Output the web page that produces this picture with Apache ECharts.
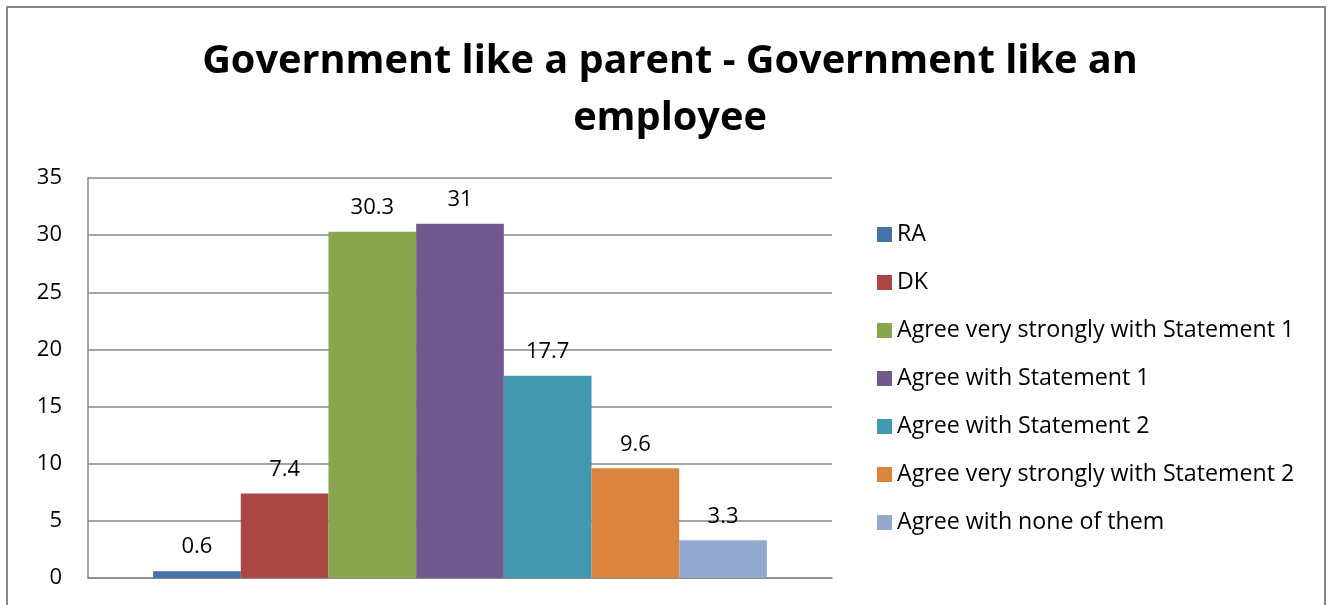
<!DOCTYPE html>
<html><head><meta charset="utf-8">
<script src="https://cdn.jsdelivr.net/npm/echarts@6/dist/echarts.min.js"></script>
<style>html,body{margin:0;padding:0;background:#fff}#c{width:1332px;height:605px}</style>
</head><body><div id="c"></div>
<script>
const titleText = 'Government like a parent - Government like an\nemployee';
const categories = [''];
const seriesNames = ['RA','DK','Agree very strongly with Statement 1','Agree with Statement 1','Agree with Statement 2','Agree very strongly with Statement 2','Agree with none of them'];
const seriesValues = [0.6, 7.4, 30.3, 31, 17.7, 9.6, 3.3];
const colors = ['#4572A7','#AA4643','#89A54E','#71588F','#4198AF','#DB843D','#93A9CF'];
const yTicks = {min:0, max:35, interval:5};

const FONT = 'Open Sans';
const chart = echarts.init(document.getElementById('c'));
chart.setOption({
  animation:false,
  color: colors,
  title:{text:titleText,left:665,textAlign:'center',top:28,
    textStyle:{fontFamily:FONT,fontWeight:'bold',fontSize:39.7,lineHeight:57,color:'#000'}},
  graphic:[{type:'rect',shape:{x:7,y:7,width:1318,height:640},style:{fill:'none',stroke:'#868686',lineWidth:2},z:-1}],
  grid:{left:88,top:178,width:744,height:400,containLabel:false},
  legend:{orient:'vertical',left:872,top:218,itemWidth:15,itemHeight:15,itemGap:25,
    icon:'rect',textStyle:{fontFamily:FONT,fontSize:23.2,color:'#000'},data:seriesNames},
  xAxis:{type:'category',data:categories,axisLine:{lineStyle:{color:'#868686',width:1.5}},axisTick:{show:false},axisLabel:{show:false}},
  yAxis:{type:'value',min:yTicks.min,max:yTicks.max,interval:yTicks.interval,
    axisLine:{show:true,lineStyle:{color:'#868686',width:1.5}},axisTick:{show:false},
    axisLabel:{fontFamily:FONT,fontSize:22,color:'#000',margin:26},
    splitLine:{lineStyle:{color:'#868686',width:1.5}}},
  series: seriesNames.map((n,i)=>({name:n,type:'bar',data:[seriesValues[i]],barGap:'0%',barCategoryGap:'17.5%',
    label:{show:true,position:'top',distance:13,fontFamily:FONT,fontSize:22,color:'#000'}}))
});
</script></body></html>
